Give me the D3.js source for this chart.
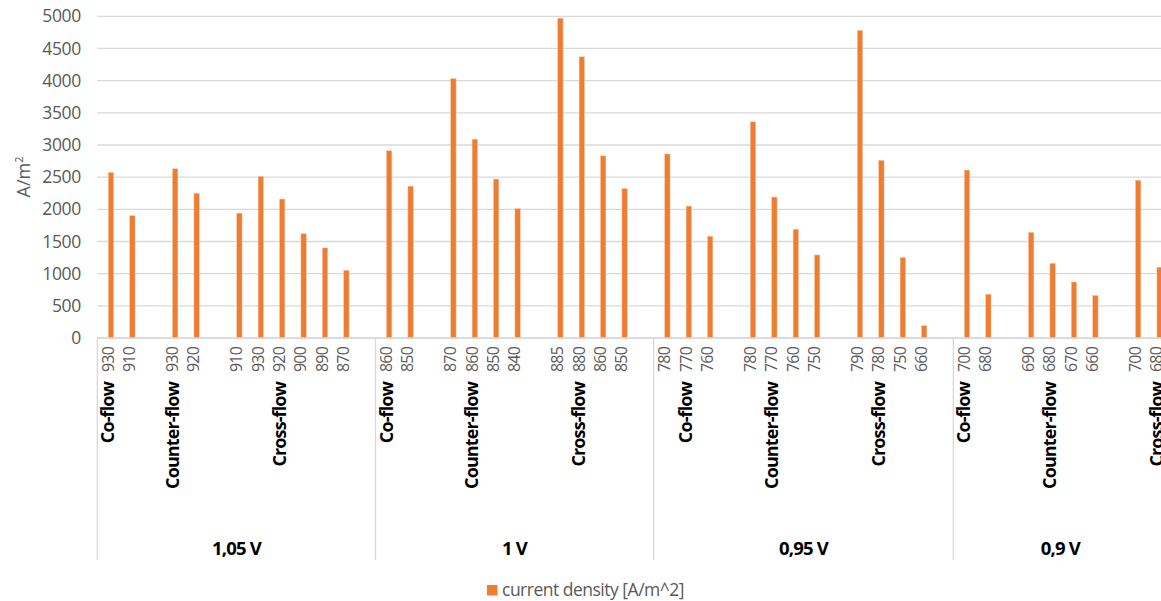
<!DOCTYPE html>
<html>
<head>
<meta charset="utf-8">
<script src="https://cdn.jsdelivr.net/npm/d3@7/dist/d3.min.js"></script>
<style>
  html, body { margin: 0; padding: 0; background: #fff; overflow: hidden; }
  svg { display: block; font-family: "Open Sans", sans-serif; }
</style>
</head>
<body>
<svg id="chart" width="1180" height="601"></svg>
<script>
// ---- data ----
const voltages = ["1,05 V", "1 V", "0,95 V", "0,9 V"];
const flowTypes = ["Co-flow", "Counter-flow", "Cross-flow"];
// temperature sub-categories per voltage -> flow type
const tempLabels = [
  [["930", "910"], ["930", "920"], ["910", "930", "920", "900", "890", "870"]],
  [["860", "850"], ["870", "860", "850", "840"], ["885", "880", "860", "850"]],
  [["780", "770", "760"], ["780", "770", "760", "750"], ["790", "780", "750", "660"]],
  [["700", "680"], ["690", "680", "670", "660"], ["700", "680"]]
];
// current density [A/m^2]
const currentDensity = [
  [[2570, 1900], [2630, 2250], [1940, 2510, 2160, 1620, 1400, 1050]],
  [[2910, 2360], [4030, 3090, 2470, 2010], [4970, 4370, 2830, 2320]],
  [[2860, 2050, 1580], [3360, 2190, 1690, 1290], [4780, 2760, 1250, 190]],
  [[2610, 680], [1640, 1160, 870, 660], [2450, 1100]]
];
const yTicks = [0, 500, 1000, 1500, 2000, 2500, 3000, 3500, 4000, 4500, 5000];
const seriesName = "current density [A/m^2]";
// category index (within its flow group) where Excel placed each flow label
const flowLabelSlot = [[0, 0, 2], [0, 1, 1], [1, 1, 1], [0, 1, 1]];

// ---- build flat category slots (blank slot after each flow group, none at very end) ----
const slots = [];
const flowGroups = [];
const voltGroups = [];
voltages.forEach((v, vi) => {
  const vStart = slots.length;
  flowTypes.forEach((f, fi) => {
    const fStart = slots.length;
    tempLabels[vi][fi].forEach((t, ti) => {
      slots.push({ id: slots.length, temp: t, value: currentDensity[vi][fi][ti] });
    });
    flowGroups.push({ name: f, labelSlot: fStart + flowLabelSlot[vi][fi] });
    const last = vi === voltages.length - 1 && fi === flowTypes.length - 1;
    if (!last) slots.push({ id: slots.length, temp: "", value: null });
  });
  voltGroups.push({ name: v, start: vStart, end: slots.length });
});

// ---- scales ----
const svg = d3.select("#chart");
const plotLeft = 97.3, plotTop = 16.3, plotBottom = 338;
const slotW = 21.4;
const x = d3.scaleBand().domain(slots.map(d => d.id))
  .range([plotLeft, plotLeft + slotW * slots.length]).padding(0);
const y = d3.scaleLinear().domain([0, 5000]).range([plotBottom, plotTop]);
const gray = "#595959", gridC = "#d9d9d9";
const barW = 5.3, barShift = x.bandwidth() * 0.14;

// gridlines
svg.append("g").selectAll("line").data(yTicks).join("line")
  .attr("x1", plotLeft).attr("x2", 1180)
  .attr("y1", d => y(d)).attr("y2", d => y(d))
  .attr("stroke", gridC).attr("stroke-width", 1.3);

// y axis labels
const yAxis = d3.axisLeft(y).tickValues(yTicks).tickFormat(d3.format("d")).tickSize(0).tickPadding(0);
const yg = svg.append("g").attr("transform", `translate(${81},0)`).call(yAxis);
yg.select(".domain").remove();
yg.selectAll("text").attr("fill", gray).attr("font-size", 17.5)
  .attr("font-family", "Open Sans").attr("letter-spacing", -0.3);

// y axis title
const yt = svg.append("text").attr("transform", "translate(30,177) rotate(-90)")
  .attr("text-anchor", "middle").attr("fill", gray).attr("font-size", 18);
yt.append("tspan").text("A/m");
yt.append("tspan").attr("font-size", 11).attr("dy", -7).text("2");

// bars
svg.append("g").selectAll("rect").data(slots.filter(d => d.value !== null)).join("rect")
  .attr("x", d => x(d.id) + x.bandwidth() / 2 + barShift - barW / 2)
  .attr("width", barW)
  .attr("y", d => y(d.value))
  .attr("height", d => y(0) - y(d.value))
  .attr("fill", "#ED7D31")
  .attr("stroke", "#f6c09c").attr("stroke-width", 0.5);

// x axis line
svg.append("line").attr("x1", plotLeft).attr("x2", 1180)
  .attr("y1", plotBottom).attr("y2", plotBottom)
  .attr("stroke", gridC).attr("stroke-width", 1.3);

// voltage separators
const seps = voltGroups.map(g => g.start);
svg.append("g").selectAll("line").data(seps).join("line")
  .attr("x1", d => x(d)).attr("x2", d => x(d))
  .attr("y1", plotBottom).attr("y2", 560)
  .attr("stroke", gridC).attr("stroke-width", 1.3);

// temperature labels
svg.append("g").selectAll("text").data(slots.filter(d => d.temp !== "")).join("text")
  .attr("transform", d => `translate(${x(d.id) + x.bandwidth() / 2},347) rotate(-90)`)
  .attr("dy", "0.36em").attr("text-anchor", "end")
  .attr("fill", gray).attr("font-size", 16).attr("letter-spacing", -0.8)
  .text(d => d.temp);

// flow labels
svg.append("g").selectAll("text").data(flowGroups).join("text")
  .attr("transform", d => `translate(${x(d.labelSlot) + x.bandwidth() / 2},382) rotate(-90)`)
  .attr("dy", "0.36em").attr("text-anchor", "end")
  .attr("fill", "#000").attr("font-weight", 700).attr("font-size", 18)
  .attr("letter-spacing", -0.9)
  .text(d => d.name);

// voltage labels
svg.append("g").selectAll("text").data(voltGroups).join("text")
  .attr("x", d => (x(d.start) + x(d.end - 1) + x.bandwidth()) / 2)
  .attr("y", 554.5).attr("text-anchor", "middle")
  .attr("fill", "#000").attr("font-weight", 700).attr("font-size", 18.5)
  .attr("letter-spacing", -0.8)
  .text(d => d.name);

// legend
const lg = svg.append("g");
lg.append("rect").attr("x", 487).attr("y", 585).attr("width", 10.5).attr("height", 10.5)
  .attr("fill", "#ED7D31");
lg.append("text").attr("x", 502).attr("y", 596).attr("fill", gray)
  .attr("font-size", 17.5).attr("letter-spacing", -0.5).text(seriesName);
</script>
</body>
</html>
